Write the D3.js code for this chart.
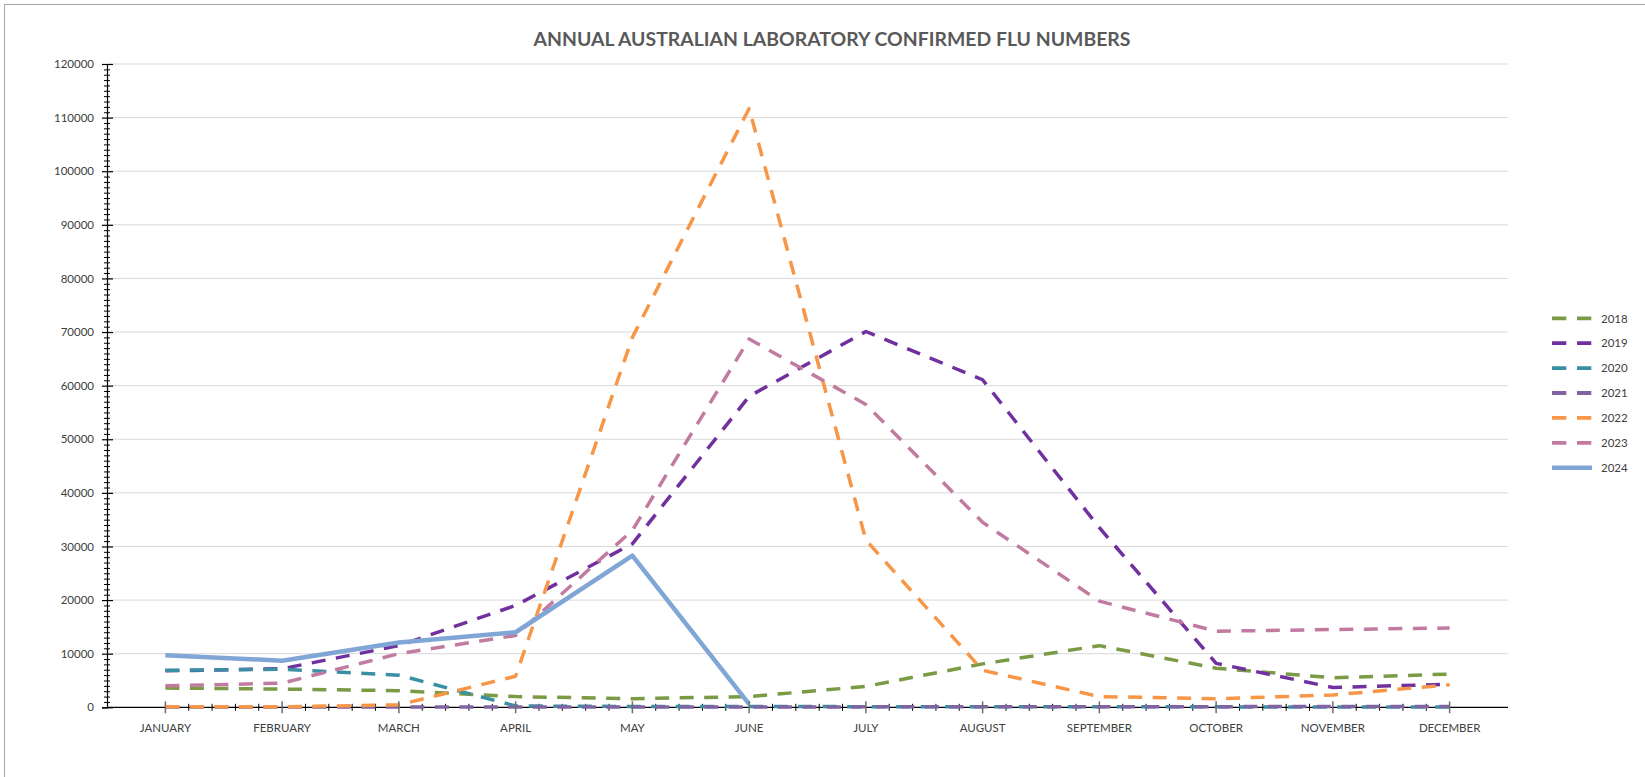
<!DOCTYPE html>
<html>
<head>
<meta charset="utf-8">
<script src="https://cdn.jsdelivr.net/npm/d3@7"></script>
<style>
  html, body { margin: 0; padding: 0; background: #ffffff; }
  svg { display: block; }
  text { font-family: Lato, "Open Sans", "Liberation Sans", sans-serif; }
</style>
</head>
<body>
<svg id="chart" width="1645" height="777"></svg>
<script>
// ---------- data ----------
const months = ["JANUARY","FEBRUARY","MARCH","APRIL","MAY","JUNE","JULY","AUGUST","SEPTEMBER","OCTOBER","NOVEMBER","DECEMBER"];
const years = ["2018","2019","2020","2021","2022","2023","2024"];
const s2018 = [3600, 3400, 3100, 2000, 1600, 2000, 3900, 8100, 11500, 7300, 5500, 6200];
const s2019 = [6800, 7200, 11500, 19000, 30500, 58000, 70100, 61100, 33500, 8200, 3700, 4300];
const s2020 = [6900, 7100, 6000, 250, 150, 150, 120, 100, 80, 80, 60, 60];
const s2021 = [60, 50, 60, 60, 70, 70, 80, 80, 80, 120, 150, 150];
const s2022 = [100, 100, 450, 5800, 69000, 111700, 31200, 6900, 2000, 1600, 2300, 4200];
const s2023 = [4000, 4500, 10000, 13400, 33000, 68700, 56500, 34500, 19800, 14200, 14500, 14800];
const s2024 = [9700, 8700, 12100, 14000, 28300, 600];
const yTicks = [0,10000,20000,30000,40000,50000,60000,70000,80000,90000,100000,110000,120000];
const titleText = "ANNUAL AUSTRALIAN LABORATORY CONFIRMED FLU NUMBERS";

const seriesValues = [s2018, s2019, s2020, s2021, s2022, s2023, s2024];
const colors = ["#7a9a44", "#7030a0", "#3a8fa5", "#8064a2", "#f79646", "#c27ba0", "#80a6d6"];
const dashed = [true, true, true, true, true, true, false];

// ---------- layout ----------
const svg = d3.select("#chart");
const plot = { left: 107, right: 1508, top: 64, bottom: 707.3 };

svg.append("rect")
  .attr("x", 4.5).attr("y", 4.5).attr("width", 1700).attr("height", 800)
  .attr("fill", "#ffffff").attr("stroke", "#a6a6a6").attr("stroke-width", 1);

const x = d3.scalePoint().domain(months).range([plot.left, plot.right]).padding(0.5);
const y = d3.scaleLinear().domain([0, 120000]).range([plot.bottom, plot.top]);

// gridlines
svg.append("g").selectAll("line").data(yTicks.filter(d => d > 0)).join("line")
  .attr("x1", plot.left).attr("x2", plot.right)
  .attr("y1", d => y(d)).attr("y2", d => y(d))
  .attr("stroke", "#d9d9d9").attr("stroke-width", 1);

// title
svg.append("text")
  .attr("x", 832).attr("y", 46)
  .attr("text-anchor", "middle")
  .attr("font-size", 19.5).attr("font-weight", "bold")
  .attr("fill", "#595959")
  .attr("textLength", 597).attr("lengthAdjust", "spacingAndGlyphs")
  .text(titleText);

// y axis
const minorY = d3.range(0, 120001, 1000).filter(v => v % 10000 !== 0);
const yAxisG = svg.append("g").attr("transform", `translate(${plot.left},0)`);
yAxisG.call(d3.axisLeft(y).tickValues(yTicks).tickSize(5).tickPadding(8).tickFormat(d3.format("d")));
yAxisG.selectAll("text").attr("font-size", 11.5).attr("fill", "#404040")
  .attr("font-family", "Lato, 'Open Sans', sans-serif");
yAxisG.select(".domain").attr("stroke", "#000").attr("stroke-width", 1.2);
yAxisG.selectAll(".tick line").attr("stroke", "#000").attr("stroke-width", 1.2);
svg.append("g").attr("transform", `translate(${plot.left},0)`)
  .call(d3.axisLeft(y).tickValues(yTicks).tickSize(-6).tickFormat(""))
  .call(g => g.select(".domain").remove())
  .selectAll(".tick line").attr("stroke", "#000").attr("stroke-width", 1.2);
svg.append("g").attr("transform", `translate(${plot.left},0)`)
  .call(d3.axisLeft(y).tickValues(minorY).tickSize(3).tickFormat(""))
  .call(g => g.select(".domain").remove())
  .selectAll(".tick line").attr("stroke", "#000").attr("stroke-width", 1);
svg.append("g").attr("transform", `translate(${plot.left},0)`)
  .call(d3.axisLeft(y).tickValues(minorY).tickSize(-3).tickFormat(""))
  .call(g => g.select(".domain").remove())
  .selectAll(".tick line").attr("stroke", "#000").attr("stroke-width", 1);

// x axis line
svg.append("line")
  .attr("x1", plot.left).attr("x2", plot.right)
  .attr("y1", plot.bottom).attr("y2", plot.bottom)
  .attr("stroke", "#000").attr("stroke-width", 1.2);

// x minor ticks (4 between consecutive months)
const minorX = [];
for (let i = 0; i < months.length - 1; i++) {
  const a = x(months[i]), b = x(months[i + 1]);
  for (let k = 1; k < 5; k++) minorX.push(a + (b - a) * k / 5);
}
svg.append("g").selectAll("line").data(minorX).join("line")
  .attr("x1", d => d).attr("x2", d => d)
  .attr("y1", plot.bottom - 3.5).attr("y2", plot.bottom + 3.5)
  .attr("stroke", "#000").attr("stroke-width", 1);

// series lines
const line = d3.line().x((d, i) => x(months[i])).y(d => y(d));
const seriesG = svg.append("g");
seriesValues.forEach((vals, si) => {
  seriesG.append("path")
    .datum(vals)
    .attr("d", line)
    .attr("fill", "none")
    .attr("stroke", colors[si])
    .attr("stroke-width", dashed[si] ? 3.5 : 4.5)
    .attr("stroke-dasharray", dashed[si] ? "14,10.5" : null)
    .attr("stroke-linejoin", "round")
    .attr("stroke-linecap", "butt");
});

// x major ticks (on top, grey)
svg.append("g").selectAll("line").data(months).join("line")
  .attr("x1", d => x(d)).attr("x2", d => x(d))
  .attr("y1", plot.bottom - 6).attr("y2", plot.bottom + 6)
  .attr("stroke", "#6e6e6e").attr("stroke-width", 1.5);

// x labels
svg.append("g").selectAll("text").data(months).join("text")
  .attr("x", d => x(d)).attr("y", 731.5)
  .attr("text-anchor", "middle")
  .attr("font-size", 11.5).attr("fill", "#404040")
  .text(d => d);

// legend
const legend = svg.append("g");
years.forEach((yr, i) => {
  const ly = 318.3 + i * 24.9;
  legend.append("line")
    .attr("x1", 1552).attr("x2", 1592).attr("y1", ly).attr("y2", ly)
    .attr("stroke", colors[i])
    .attr("stroke-width", dashed[i] ? 3.8 : 4.5)
    .attr("stroke-dasharray", dashed[i] ? "14.3,10.7" : null);
  legend.append("text")
    .attr("x", 1601).attr("y", ly + 4.2)
    .attr("font-size", 11.5).attr("fill", "#404040")
    .text(yr);
});
</script>
</body>
</html>
